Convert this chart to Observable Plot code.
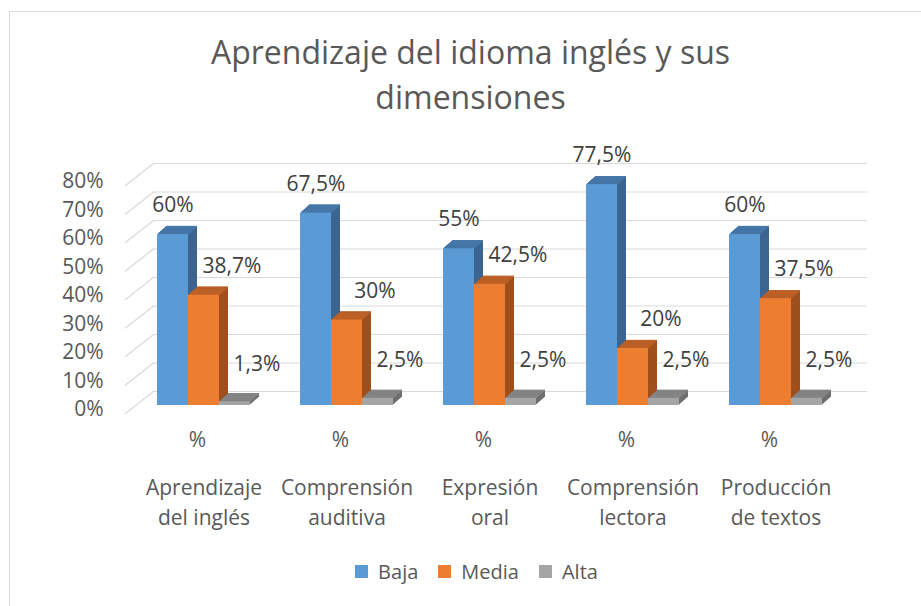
<!DOCTYPE html>
<html>
<head>
<meta charset="utf-8">
<script src="https://cdn.jsdelivr.net/npm/d3@7"></script>
<script src="https://cdn.jsdelivr.net/npm/@observablehq/plot@0.6"></script>
<style>
  html, body { margin: 0; padding: 0; background: #fff; }
  body { width: 921px; height: 606px; overflow: hidden; position: relative; font-family: "Open Sans", sans-serif; }
  #frame { position: absolute; left: 9px; top: 11px; width: 1000px; height: 700px; border-left: 1px solid #d9d9d9; border-top: 1px solid #d9d9d9; }
  #title { position: absolute; left: 20px; width: 901px; top: 29px; text-align: center; font-size: 32px; line-height: 45px; color: #595959; }
  #chart { position: absolute; left: 0; top: 120px; }
  #legend { position: absolute; left: 0; top: 555px; width: 921px; display: flex; justify-content: center; padding-left: 52px; box-sizing: border-box; }
</style>
</head>
<body>
<div id="frame"></div>
<div id="title">Aprendizaje del idioma inglés y sus<br>dimensiones</div>
<div id="chart"></div>
<div id="legend"></div>
<script>
const categories = ["Aprendizaje del inglés", "Comprensión auditiva", "Expresión oral", "Comprensión lectora", "Producción de textos"];
const categoryLines = ["Aprendizaje\ndel inglés", "Comprensión\nauditiva", "Expresión\noral", "Comprensión\nlectora", "Producción\nde textos"];
const series = ["Baja", "Media", "Alta"];
const baja = [60, 67.5, 55, 77.5, 60];
const media = [38.7, 30, 42.5, 20, 37.5];
const alta = [1.3, 2.5, 2.5, 2.5, 2.5];
const yTicks = [0, 10, 20, 30, 40, 50, 60, 70, 80];

const frontColors = ["#5B9BD5", "#ED7D31", "#A5A5A5"];
const topColors = ["#4677A8", "#BC6127", "#858585"];
const sideColors = ["#3B6590", "#9E4F1C", "#6F6F6F"];
const values = [baja, media, alta];
const insets = [[25, 87], [56, 56], [87, 25]];
const labelDx = [-31, 28, 53];
const labelDy = [-29, -29, -38];
const depth = 9, rise = 8;
const fmt = v => String(v).replace(".", ",") + "%";

const lineShape = { draw(context, l) { context.moveTo(0, 0); context.lineTo(0, -l); } };

const marks = [];
// back wall gridlines
marks.push(Plot.ruleY(yTicks, { y: d => d, stroke: "#d9d9d9", strokeWidth: 1.2, dx: 20, dy: -14, insetLeft: 1 }));
// slanted side-wall gridlines
marks.push(Plot.vector(yTicks, { x: () => categories[0], y: d => d, length: 35.6, rotate: 51.8, anchor: "start", shape: lineShape, stroke: "#d9d9d9", strokeWidth: 1.2, dx: -78.5, dy: 8 }));

const rowsBySeries = series.map((s, k) => categories.map((c, i) => ({ category: c, series: s, value: values[k][i] })));

rowsBySeries.forEach((rows, k) => {
  const [il, ir] = insets[k];
  for (let i = 1; i <= depth; i++) {
    marks.push(Plot.barY(rows, { x: "category", y: "value", fill: sideColors[k], insetLeft: il, insetRight: ir, dx: i, dy: -i * rise / depth }));
  }
  for (let i = 1; i <= depth; i++) {
    marks.push(Plot.tickY(rows, { x: "category", y: "value", stroke: topColors[k], strokeWidth: 1.3, insetLeft: il, insetRight: ir, dx: i, dy: -i * rise / depth }));
  }
  marks.push(Plot.barY(rows, { x: "category", y: "value", fill: frontColors[k], insetLeft: il, insetRight: ir }));
});

rowsBySeries.forEach((rows, k) => {
  marks.push(Plot.text(rows, { x: "category", y: "value", text: d => fmt(d.value), dx: labelDx[k], dy: labelDy[k], fill: "#404040", fontSize: 21 }));
});

marks.push(Plot.axisY({ ticks: yTicks, tickFormat: d => d + "%", tickSize: 0, tickPadding: 29, dy: 4, fontSize: 21 }));
marks.push(Plot.axisX({ tickFormat: () => "%", tickSize: 0, tickPadding: 27, dx: -6.5, fontSize: 21 }));
marks.push(Plot.text(categories, { x: d => d, text: (d, i) => categoryLines[i], frameAnchor: "bottom", lineAnchor: "middle", lineHeight: 1.45, dy: 95, fill: "#595959", fontSize: 21 }));

const chart = Plot.plot({
  width: 921,
  height: 420,
  marginLeft: 132,
  marginRight: 74,
  marginTop: 57,
  marginBottom: 135,
  x: { domain: categories, padding: 0, label: null },
  y: { domain: [0, 80], label: null },
  style: { color: "#595959", fontFamily: "'Open Sans', sans-serif", fontSize: "21px", background: "transparent", overflow: "visible" },
  marks
});
document.getElementById("chart").appendChild(chart);

const legend = Plot.legend({
  color: { type: "ordinal", domain: series, range: frontColors },
  swatchSize: 13,
  style: { fontSize: "20px", fontFamily: "'Open Sans', sans-serif", color: "#595959" }
});
document.getElementById("legend").appendChild(legend);
</script>
</body>
</html>
